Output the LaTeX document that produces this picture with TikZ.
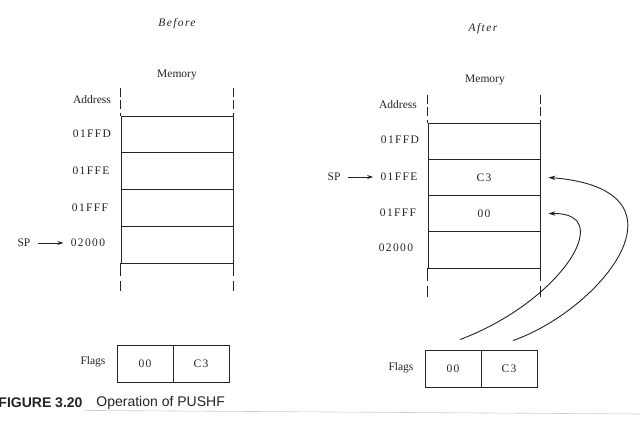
\documentclass[tikz,border=0pt]{standalone}
\usepackage{fontspec}
\setmainfont{Liberation Serif}
\newfontfamily\spacedfont[LetterSpace=12]{Liberation Serif}
\newfontfamily\capfont{Liberation Sans}
\usetikzlibrary{arrows.meta}
\definecolor{ink}{RGB}{35, 35, 35}
\definecolor{pagerule}{RGB}{205, 205, 205}

\begin{document}
\begin{tikzpicture}[x=1pt, y=-1pt, color=ink, line width=0.9pt,
        every node/.style={font=\fontsize{11.5}{13}\selectfont, inner sep=1pt},
        cellL/.style={draw, rectangle, minimum width=112pt, minimum height=36.75pt, inner sep=0pt},
        cellR/.style={draw, rectangle, minimum width=112pt, minimum height=36.25pt, inner sep=0pt},
        flagbox/.style={draw, rectangle, minimum width=56pt, minimum height=37pt, inner sep=0pt, font=\fontsize{11.5}{13}\spacedfont},
        addr/.style={font=\fontsize{11.5}{13}\spacedfont},
        guidetop/.style={line width=0.8pt, dash pattern=on 9pt off 3.5pt},
        guidebot/.style={line width=0.8pt, dash pattern=on 13pt off 5pt},
        sparrow/.style={line width=0.7pt, -{Stealth[length=6pt, width=4pt]}, shorten <=6pt, shorten >=6pt},
        pusharrow/.style={line width=0.9pt, -{Stealth[length=7pt, width=4.5pt]}}]
    \useasboundingbox (0, 0) rectangle (640, 430);
    % Before
    \node[font=\fontsize{11.5}{13}\spacedfont\itshape] (before) at (177,  24) {Before};
    \node                                              (memL)   at (177,  75) {Memory};
    \node                                              (adrL)   at ( 92, 100) {Address};
    \node[cellL] (L1) at (177, 134.4) {};
    \node[cellL] (L2) at (177, 171.1) {};
    \node[cellL] (L3) at (177, 207.9) {};
    \node[cellL] (L4) at (177, 244.6) {};
    \node[addr]  (aL1) at ( 92, 134) {01FFD};
    \node[addr]  (aL2) at ( 91, 171) {01FFE};
    \node[addr]  (aL3) at ( 90, 208) {01FFF};
    \node[addr]  (aL4) at ( 88, 243) {02000};
    \node        (spL) at ( 24, 243) {SP};
    \draw[sparrow] (spL) -- (aL4);
    % Dashed column edges
    \draw[guidetop] ([yshift=28pt]L1.north west) -- (L1.north west);
    \draw[guidetop] ([yshift=28pt]L1.north east) -- (L1.north east);
    \draw[guidebot] (L4.south west) -- ([yshift=-28pt]L4.south west);
    \draw[guidebot] (L4.south east) -- ([yshift=-28pt]L4.south east);
    % Flags before
    \node[flagbox] (fl0) at (145, 363.5) {00};
    \node[flagbox] (flC) at (201, 363.5) {C3};
    \node          (flagL) at ( 93, 362) {Flags};

    % After
    \node[font=\fontsize{11.5}{13}\spacedfont\itshape] (after) at (483,  29) {After};
    \node                                              (memR)  at (485,  80) {Memory};
    \node                                              (adrR)  at (398, 105) {Address};
    \node[cellR] (R1) at (484, 141.1) {};
    \node[cellR, font=\fontsize{11.5}{13}\spacedfont] (R2) at (484, 177.4) {C3};
    \node[cellR, font=\fontsize{11.5}{13}\spacedfont] (R3) at (484, 213.6) {00};
    \node[cellR] (R4) at (484, 249.9) {};
    \node[addr]  (aR1) at (400, 140) {01FFD};
    \node[addr]  (aR2) at (399, 177) {01FFE};
    \node[addr]  (aR3) at (398, 213) {01FFF};
    \node[addr]  (aR4) at (396, 248) {02000};
    \node        (spR) at (334, 177) {SP};
    \draw[sparrow] (spR) -- (aR2);
    % Dashed column edges
    \draw[guidetop] ([yshift=28pt]R1.north west) -- (R1.north west);
    \draw[guidetop] ([yshift=28pt]R1.north east) -- (R1.north east);
    \draw[guidebot] (R4.south west) -- ([yshift=-29pt]R4.south west);
    \draw[guidebot] (R4.south east) -- ([yshift=-29pt]R4.south east);
    % Flags after
    \node[flagbox] (fr0) at (453, 368.5) {00};
    \node[flagbox] (frC) at (509, 368.5) {C3};
    \node          (flagR) at (401, 368) {Flags};
    % Pushed flags
    \draw[pusharrow] ([shift={(4pt, 9pt)}]frC.north) .. controls (600, 310) and (700, 190) .. ([xshift=8pt]R2.east);
    \draw[pusharrow] ([shift={(7pt, 10pt)}]fr0.north) .. controls (560, 302) and (618, 212) .. ([xshift=8pt]R3.east);

    % Caption
    \node[anchor=west, font=\fontsize{14}{16}\capfont\bfseries] (figno)  at ( -3, 403) {FIGURE 3.20};
    \node[anchor=west, font=\fontsize{14}{16}\capfont]          (figcap) at ( 95, 403) {Operation of PUSHF};
    \draw[pagerule, line width=0.6pt] (figno.south east) ++(0, 1) -- (640, 414);
\end{tikzpicture}
\end{document}
